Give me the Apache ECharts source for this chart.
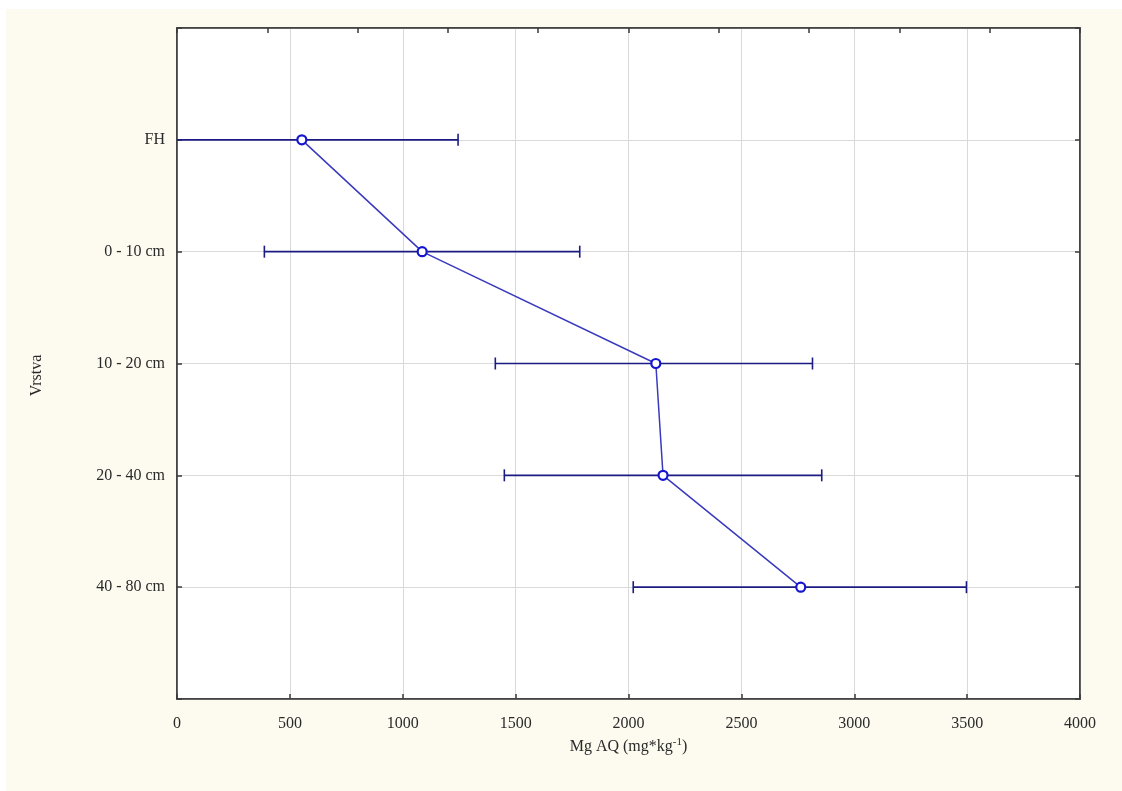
<!DOCTYPE html>
<html>
<head>
<meta charset="utf-8">
<script src="https://cdn.jsdelivr.net/npm/echarts@6/dist/echarts.min.js"></script>
<style>
  html, body { margin: 0; padding: 0; background: #ffffff; width: 1122px; height: 791px; overflow: hidden; }
  #chart { position: absolute; left: 6px; top: 9px; width: 1116px; height: 782px; }
</style>
</head>
<body>
<div id="chart"></div>
<script>
// ---- data ----
const categories = ['FH', '0 - 10 cm', '10 - 20 cm', '20 - 40 cm', '40 - 80 cm'];
const means = [553, 1086, 2121, 2153, 2763];
const lowerBounds = [-139, 387, 1410, 1450, 2021];
const upperBounds = [1245, 1784, 2815, 2856, 3497];
const xTicks = [0, 500, 1000, 1500, 2000, 2500, 3000, 3500, 4000];
const xTitle = 'Mg AQ (mg*kg{sup|-1})';
const yTitle = 'Vrstva';

// ---- build ----
const pointData = categories.map((c, i) => [means[i], i + 1]);
const errData = categories.map((c, i) => [lowerBounds[i], upperBounds[i], i + 1]);

const chart = echarts.init(document.getElementById('chart'));
const font = '"Liberation Serif", "Times New Roman", serif';
const textColor = '#2a2a2a';

chart.setOption({
  backgroundColor: '#fdfaf0',
  animation: false,
  grid: {
    left: 171, right: 42, top: 19, bottom: 92,
    show: true, backgroundColor: '#ffffff', borderColor: '#3a3a3a', borderWidth: 1.5
  },
  xAxis: [{
    type: 'value', position: 'bottom',
    min: xTicks[0], max: xTicks[xTicks.length - 1], interval: xTicks[1] - xTicks[0],
    axisLine: { show: true, onZero: false, lineStyle: { color: '#3a3a3a', width: 1.5 } },
    axisTick: { show: true, inside: true, length: 5, lineStyle: { color: '#3a3a3a', width: 1.5 } },
    axisLabel: { show: true, margin: 17, fontFamily: font, fontSize: 16, color: textColor,
      formatter: v => String(v) },
    splitLine: { show: true, lineStyle: { color: '#d9d9d9', width: 1 } },
    name: xTitle, nameLocation: 'middle', nameGap: 37,
    nameTextStyle: {
      fontFamily: font, fontSize: 16, color: textColor,
      rich: { sup: { fontFamily: font, fontSize: 11, color: textColor, verticalAlign: 'top', padding: [0, 0, 8, 0] } }
    }
  }, {
    type: 'value', position: 'top',
    min: 0, max: 4000, interval: 400,
    axisLine: { show: true, onZero: false, lineStyle: { color: '#3a3a3a', width: 1.5 } },
    axisTick: { show: true, inside: true, length: 5, lineStyle: { color: '#3a3a3a', width: 1.5 } },
    axisLabel: { show: false },
    splitLine: { show: false }
  }],
  yAxis: [{
    type: 'value', position: 'left', inverse: true,
    min: 0, max: categories.length + 1, interval: 1,
    axisLine: { show: true, onZero: false, lineStyle: { color: '#3a3a3a', width: 1.5 } },
    axisTick: { show: true, inside: true, length: 5, lineStyle: { color: '#3a3a3a', width: 1.5 } },
    axisLabel: {
      show: true, margin: 12, fontFamily: font, fontSize: 16, color: textColor,
      formatter: v => (v >= 1 && v <= categories.length) ? categories[v - 1] : ''
    },
    splitLine: { show: true, lineStyle: { color: '#d9d9d9', width: 1 } },
    name: yTitle, nameLocation: 'middle', nameGap: 132, nameRotate: 90,
    nameTextStyle: { fontFamily: font, fontSize: 16, color: textColor, padding: [0, 24, 0, 0] }
  }, {
    type: 'value', position: 'right', inverse: true,
    min: 0, max: categories.length + 1, interval: 1,
    axisLine: { show: true, onZero: false, lineStyle: { color: '#3a3a3a', width: 1.5 } },
    axisTick: { show: true, inside: true, length: 5, lineStyle: { color: '#3a3a3a', width: 1.5 } },
    axisLabel: { show: false },
    splitLine: { show: false }
  }],
  series: [{
    type: 'custom',
    xAxisIndex: 0, yAxisIndex: 0,
    data: errData,
    z: 3,
    renderItem: function (params, api) {
      const cs = params.coordSys;
      const lo = api.coord([api.value(0), api.value(2)]);
      const hi = api.coord([api.value(1), api.value(2)]);
      const y = lo[1];
      const x1 = Math.max(lo[0], cs.x);
      const x2 = Math.min(hi[0], cs.x + cs.width);
      const style = { stroke: '#1b1b82', lineWidth: 1.6 };
      const children = [{ type: 'line', shape: { x1: x1, y1: y, x2: x2, y2: y }, style: style }];
      if (lo[0] >= cs.x) children.push({ type: 'line', shape: { x1: lo[0], y1: y - 6, x2: lo[0], y2: y + 6 }, style: style });
      if (hi[0] <= cs.x + cs.width) children.push({ type: 'line', shape: { x1: hi[0], y1: y - 6, x2: hi[0], y2: y + 6 }, style: style });
      return { type: 'group', children: children };
    }
  }, {
    type: 'line',
    xAxisIndex: 0, yAxisIndex: 0,
    data: pointData,
    z: 5,
    symbol: 'circle', symbolSize: 9,
    lineStyle: { color: '#3a3abf', width: 1.5 },
    itemStyle: { color: '#ffffff', borderColor: '#1515d0', borderWidth: 2.2 }
  }]
});
</script>
</body>
</html>
